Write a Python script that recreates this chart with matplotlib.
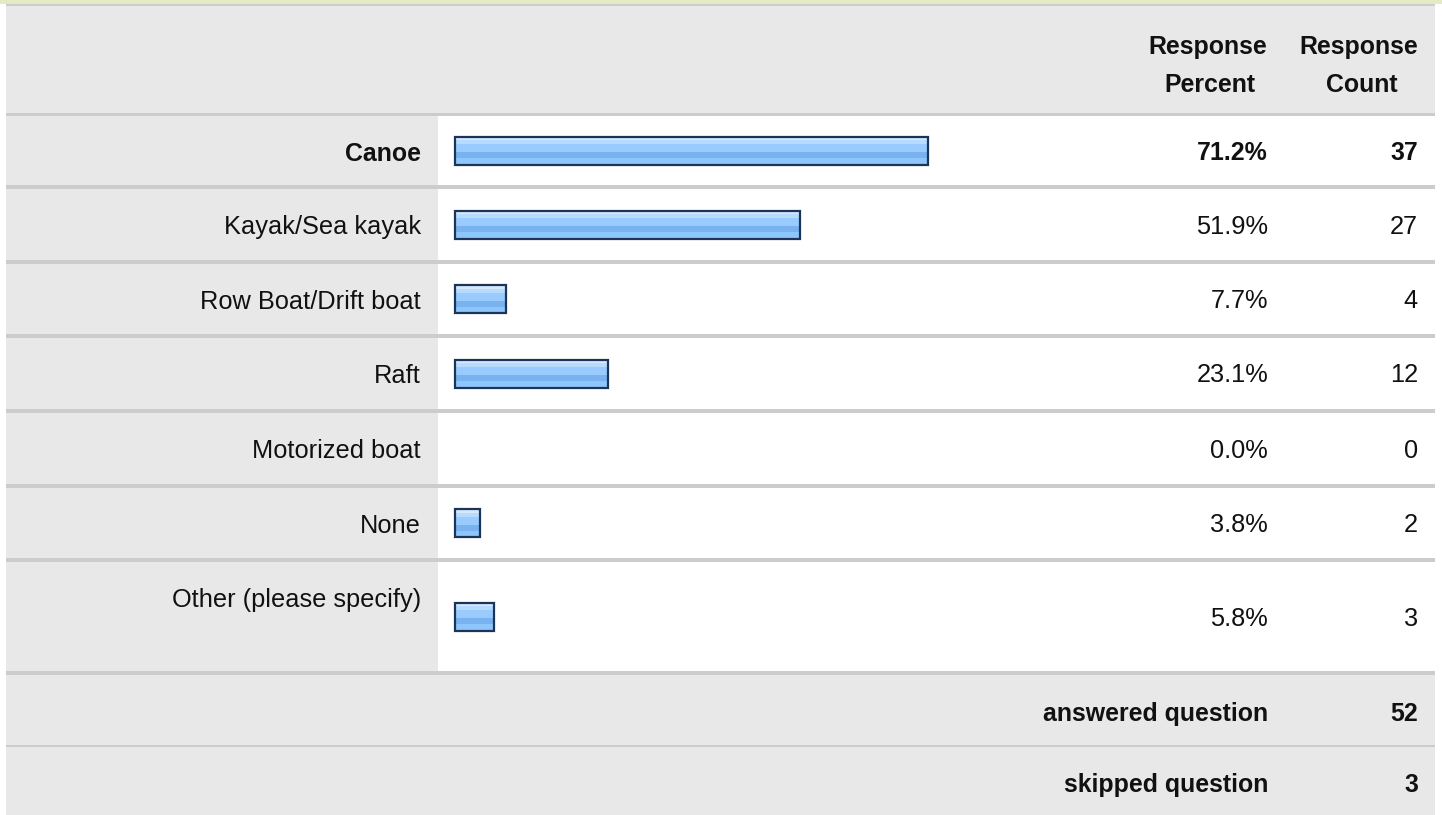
import matplotlib
matplotlib.use("Agg")
import matplotlib.pyplot as plt
import numpy as np
from matplotlib.patches import Rectangle

# ---------------- data ----------------
categories = ["Canoe", "Kayak/Sea kayak", "Row Boat/Drift boat", "Raft",
              "Motorized boat", "None", "Other (please specify)"]
percents = [71.2, 51.9, 7.7, 23.1, 0.0, 3.8, 5.8]
counts = [37, 27, 4, 12, 0, 2, 3]
header_percent = "Response\nPercent"
header_count = "Response\nCount"
answered_label = "answered question"
answered_value = 52
skipped_label = "skipped question"
skipped_value = 3

# ---------------- layout (pixels) ----------------
W, H = 1442, 815
plt.rcParams['font.family'] = ['Liberation Sans', 'DejaVu Sans']
FS = 18.3      # regular text
FSB = 17.9     # bold text
GREY = "#e8e8e8"
SEP = "#cccccc"
TXT = "#111111"

fig = plt.figure(figsize=(W / 100, H / 100), dpi=100)
bg = fig.add_axes([0, 0, 1, 1])
bg.set_xlim(0, W)
bg.set_ylim(H, 0)
bg.axis("off")

L, R = 6, 1435          # panel horizontal extent
LABEL_R = 438           # end of label column
header = (6, 113)
row_tops = [116, 189, 264, 338, 413, 488, 562]
row_bots = [185, 260, 334, 409, 484, 558, 671]
answered = (675, 745)
skipped = (747, 815)

def rect(x0, y0, x1, y1, c, z=0):
    bg.add_patch(Rectangle((x0, y0), x1 - x0, y1 - y0, facecolor=c,
                           edgecolor="none", zorder=z))

# top strip
rect(0, 0, W, 4, "#e6eac2")
rect(L, 4, R, 6, SEP)
# header
rect(L, header[0], R, header[1], GREY)
rect(L, header[1], R, row_tops[0], SEP)
# data rows
for t, b in zip(row_tops, row_bots):
    rect(L, t, LABEL_R, b, GREY)
    rect(LABEL_R, t, R, b, "white")
for b, nt in zip(row_bots, row_tops[1:] + [answered[0]]):
    rect(L, b, R, nt, SEP)
# footer rows
rect(L, answered[0], R, answered[1], GREY)
rect(L, answered[1], R, skipped[0], SEP)
rect(L, skipped[0], R, skipped[1], GREY)

# header text
PCT_R, CNT_R = 1268, 1418
DY = 2.0
hp = header_percent.split("\n")
hc = header_count.split("\n")
for txt, x, y in [(hp[0], 1208, 45), (hp[1], 1210, 83),
                  (hc[0], 1359, 45), (hc[1], 1362, 83)]:
    bg.text(x, y + DY, txt, ha="center", va="center", fontsize=FSB,
            fontweight="bold", color=TXT)

# row texts
top_idx = int(np.argmax(percents))
centers = []
for i, (cat, p, c) in enumerate(zip(categories, percents, counts)):
    t, b = row_tops[i], row_bots[i]
    cy = (t + b) / 2
    centers.append(cy)
    bold = i == top_idx
    wt = "bold" if bold else "normal"
    fs = FSB if bold else FS
    label_y = t + 36
    bg.text(421, label_y + DY, cat, ha="right", va="center", fontsize=fs,
            fontweight=wt, color=TXT)
    bg.text(PCT_R, cy + DY, f"{p:.1f}%", ha="right", va="center",
            fontsize=fs, fontweight=wt, color=TXT)
    bg.text(CNT_R, cy + DY, f"{c}", ha="right", va="center", fontsize=fs,
            fontweight=wt, color=TXT)

# footer texts
for (t, b), lab, val in [(answered, answered_label, answered_value),
                         (skipped, skipped_label, skipped_value)]:
    cy = (t + b) / 2 + 2 + DY
    bg.text(PCT_R, cy, lab, ha="right", va="center", fontsize=FSB,
            fontweight="bold", color=TXT)
    bg.text(CNT_R, cy, str(val), ha="right", va="center", fontsize=FSB,
            fontweight="bold", color=TXT)

# ---------------- bars (percent scale) ----------------
X0 = 455.0
SCALE = (928 - X0) / 71.2   # px per percent
bx = fig.add_axes([0, 0, 1, 1], zorder=2)
bx.patch.set_alpha(0)
bx.axis("off")

# vertical gradient bands (fraction of bar height, colour)
bands = [(0.13, "#d3e9ff"), (0.16, "#b7dbff"), (0.29, "#9acbff"),
         (0.19, "#78b2ef"), (0.23, "#8ec5fd")]
rows = []
for frac, col in bands:
    rows += [matplotlib.colors.to_rgb(col)] * int(round(frac * 100))
grad = np.array(rows)[:, None, :]

BAR_H = 28
for cy, p in zip(centers, percents):
    if p <= 0:
        continue
    bx.imshow(grad, extent=(0, p, cy + BAR_H / 2, cy - BAR_H / 2),
              aspect="auto", interpolation="nearest", zorder=2)
bars_y = [cy for cy, p in zip(centers, percents) if p > 0]
bars_w = [p for p in percents if p > 0]
bx.barh(bars_y, bars_w, height=BAR_H, left=0, facecolor="none",
        edgecolor="#1c3457", linewidth=1.6, zorder=3)
bx.set_xlim(-X0 / SCALE, (W - X0) / SCALE)
bx.set_ylim(H, 0)

fig.savefig("out.png", dpi=100)
